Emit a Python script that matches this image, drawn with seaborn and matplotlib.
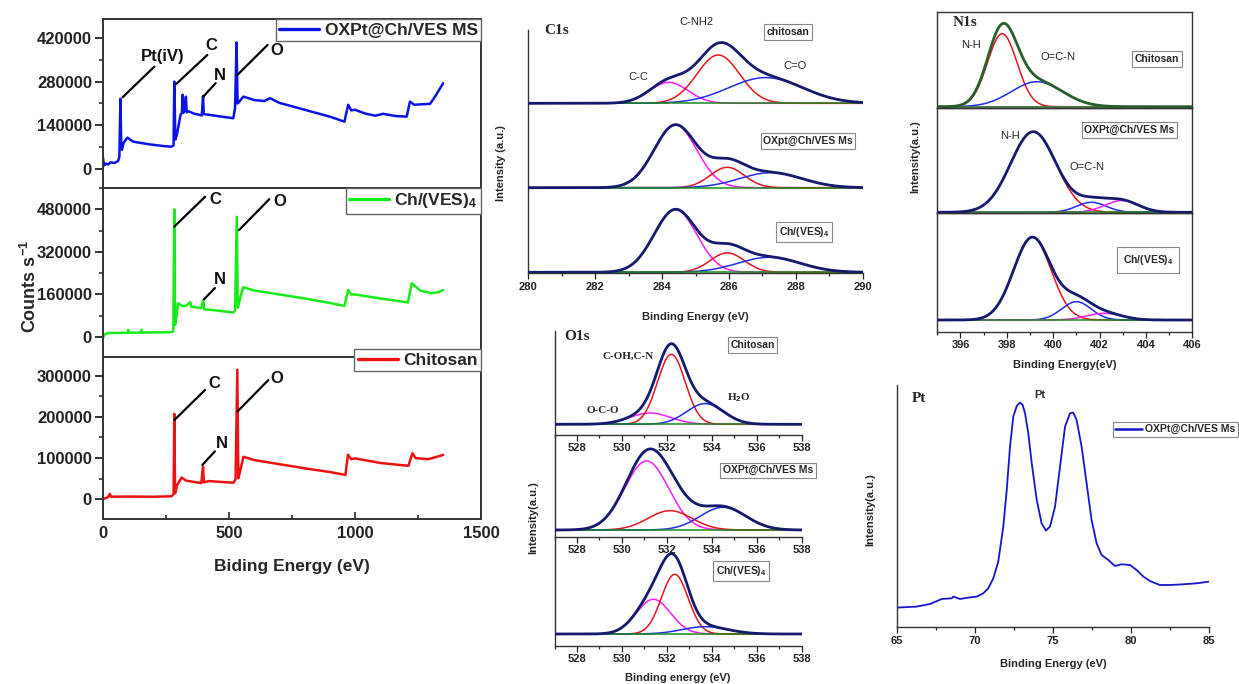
import numpy as np
import matplotlib
matplotlib.use("Agg")
import matplotlib.pyplot as plt
from matplotlib.ticker import MultipleLocator, FuncFormatter
from matplotlib.lines import Line2D
import seaborn as sns

# ------------------------------------------------------------------ data
# Survey spectra (binding energy eV, counts s-1)
survey_oxpt_E = [0, 4, 12, 20, 30, 45, 60, 65, 69, 72, 75, 82, 97, 120, 180, 240, 272, 280, 283, 287,
                 293, 300, 308, 313, 316, 319, 324, 329, 332, 340, 360, 392, 397, 400, 420, 470, 517,
                 524, 530, 534, 540, 557, 600, 640, 663, 700, 800, 900, 958, 973, 985, 1000, 1040,
                 1080, 1112, 1160, 1205, 1218, 1235, 1298, 1320, 1350]
survey_oxpt_I = [36000, 12000, 18000, 15000, 22000, 20000, 26000, 40000, 225000, 90000, 62000, 85000,
                 101000, 88000, 80000, 74000, 72000, 76000, 280000, 95000, 110000, 140000, 175000,
                 180000, 238000, 180000, 190000, 232000, 182000, 185000, 178000, 172000, 234000,
                 176000, 174000, 168000, 163000, 195000, 405000, 210000, 215000, 232000, 221000,
                 218000, 227000, 212000, 190000, 168000, 152000, 206000, 188000, 190000, 178000,
                 171000, 177000, 170000, 168000, 216000, 206000, 209000, 235000, 275000]

survey_chves_E = [0, 5, 20, 99, 100, 102, 152, 153, 155, 270, 279, 283, 286, 292, 298, 315, 330, 347,
                  350, 390, 398, 402, 450, 517, 524, 531, 535, 545, 557, 600, 700, 800, 900, 958, 973,
                  985, 1000, 1100, 1210, 1225, 1260, 1300, 1330, 1350]
survey_chves_I = [-4000, 9000, 15000, 16000, 27000, 16000, 17000, 27000, 17000, 18000, 22000, 480000,
                  46000, 80000, 127000, 116000, 118000, 131000, 114000, 109000, 140000, 104000,
                  100000, 92000, 100000, 452000, 110000, 150000, 187000, 175000, 160000, 145000,
                  128000, 117000, 177000, 160000, 160000, 145000, 130000, 202000, 174000, 165000,
                  168000, 177000]

survey_chitosan_E = [0, 20, 27, 32, 100, 200, 272, 280, 283, 286, 295, 312, 330, 390, 397, 400, 420,
                     517, 526, 533, 537, 545, 557, 600, 700, 800, 900, 962, 972, 985, 1000, 1100,
                     1212, 1228, 1240, 1290, 1320, 1350]
survey_chitosan_I = [0, 5000, 13000, 6000, 6500, 6000, 7000, 12000, 207000, 14500, 35000, 52500,
                     45000, 39000, 79000, 41000, 44000, 40000, 48000, 314000, 51000, 70000, 103000,
                     95000, 85000, 75000, 66000, 59000, 107500, 97000, 99000, 88000, 81000, 111500,
                     100000, 97000, 102000, 107500]

survey_labels = ["OXPt@Ch/VES MS", "Ch/(VES)$_\\mathbf{4}$", "Chitosan"]
survey_yticks_oxpt = [0, 140000, 280000, 420000]
survey_yticks_chves = [0, 160000, 320000, 480000]
survey_yticks_chitosan = [0, 100000, 200000, 300000]
survey_xticks = [0, 500, 1000, 1500]

# Peak fits: centre (eV), height (a.u.), FWHM (eV); order magenta, red, blue
c1s_chitosan_center = [284.2, 285.68, 287.1]
c1s_chitosan_height = [21.0, 48.3, 25.7]
c1s_chitosan_fwhm = [1.35, 1.5, 2.6]
c1s_oxpt_center = [284.4, 285.95, 287.25]
c1s_oxpt_height = [62.7, 20.4, 15.0]
c1s_oxpt_fwhm = [1.5, 1.2, 2.2]
c1s_chves_center = [284.4, 285.95, 287.2]
c1s_chves_height = [62.7, 19.4, 15.0]
c1s_chves_fwhm = [1.5, 1.2, 2.2]

# N1s: order red, blue, magenta
n1s_chitosan_center = [397.8, 399.3, 400.0]
n1s_chitosan_height = [73.0, 25.0, 0.0]
n1s_chitosan_fwhm = [1.5, 2.6, 2.0]
n1s_oxpt_center = [399.14, 401.65, 402.95]
n1s_oxpt_height = [80.6, 10.0, 11.7]
n1s_oxpt_fwhm = [2.3, 1.5, 1.7]
n1s_chves_center = [399.1, 401.0, 402.2]
n1s_chves_height = [82.7, 18.3, 6.7]
n1s_chves_fwhm = [1.9, 1.5, 1.8]

# O1s: order magenta, red, blue
o1s_chitosan_center = [531.25, 532.2, 533.7]
o1s_chitosan_height = [11.3, 70.0, 20.7]
o1s_chitosan_fwhm = [2.15, 1.45, 1.95]
o1s_oxpt_center = [531.1, 532.14, 534.5]
o1s_oxpt_height = [69.0, 19.3, 22.7]
o1s_oxpt_fwhm = [2.3, 2.3, 2.4]
o1s_chves_center = [531.4, 532.35, 533.7]
o1s_chves_height = [34.7, 59.7, 7.3]
o1s_chves_fwhm = [1.8, 1.4, 2.4]

# Pt 4f spectrum points (eV, a.u.)
pt_E = [65.0, 66.28, 67.13, 67.88, 68.52, 68.62, 69.05, 69.58, 70.12, 70.54, 70.86, 71.18, 71.5,
        71.82, 72.04, 72.25, 72.46, 72.68, 72.89, 73.06, 73.21, 73.42, 73.64, 73.96, 74.27, 74.55,
        74.81, 75.13, 75.45, 75.77, 76.09, 76.3, 76.51, 76.83, 77.15, 77.47, 77.79, 78.11, 78.54,
        78.96, 79.39, 79.93, 80.35, 80.78, 81.2, 81.84, 82.48, 83.33, 84.19, 85.0]
pt_I = [19.7, 20.7, 23.3, 28.3, 29.0, 30.7, 28.3, 29.7, 30.7, 34.0, 39.0, 49.0, 65.7, 100.7, 137.3,
        180.7, 210.7, 221.3, 224.7, 222.3, 214.0, 194.0, 164.0, 127.3, 104.0, 96.7, 100.7, 120.7,
        160.7, 200.7, 214.0, 214.7, 207.3, 180.7, 144.0, 107.3, 84.0, 72.3, 67.3, 61.3, 63.0, 62.3,
        57.3, 50.7, 46.3, 42.3, 42.3, 43.0, 44.0, 45.7]

# ------------------------------------------------------------------ style
sns.set_theme(style="white")
plt.rcParams["font.family"] = ["Liberation Sans", "DejaVu Sans"]
plt.rcParams["font.weight"] = "bold"
plt.rcParams["axes.labelweight"] = "bold"
plt.rcParams["mathtext.fontset"] = "custom"
plt.rcParams["mathtext.rm"] = "Liberation Sans:bold"
plt.rcParams["mathtext.bf"] = "Liberation Sans:bold"
plt.rcParams["mathtext.it"] = "Liberation Sans:bold"

W, H = 1239, 684
fig = plt.figure(figsize=(W / 100, H / 100), dpi=100)
fig.patch.set_facecolor("white")


def add_ax(x0, y0, x1, y1):
    return fig.add_axes([x0 / W, 1 - y1 / H, (x1 - x0) / W, (y1 - y0) / H])


def ftext(x, y, s, **kw):
    kw.setdefault("ha", "center")
    kw.setdefault("va", "center")
    return fig.text(x / W, 1 - y / H, s, **kw)


def line(ax, x, y, color, lw, z=2):
    sns.lineplot(x=np.asarray(x, float), y=np.asarray(y, float), ax=ax, color=color,
                 linewidth=lw, estimator=None, sort=False, legend=False, errorbar=None, zorder=z)


def gauss(x, c, h, w):
    return h * np.exp(-4 * np.log(2) * (x - c) ** 2 / w ** 2)


def draw_fit(ax, x, centers, heights, fwhms, colors, offset, env_color, base_color="#1a8a1a"):
    comps = [gauss(x, c, h, w) for c, h, w in zip(centers, heights, fwhms)]
    for comp, col in zip(comps, colors):
        line(ax, x, comp + offset, col, 1.1, z=2)
    line(ax, x, np.full_like(x, offset), base_color, 1.1, z=3)
    line(ax, x, np.sum(comps, axis=0) + offset, env_color, 2.0, z=4)


MAG, RED, BLU, NAVY = "#ff1aff", "#e8141e", "#1f2ee6", "#141a6e"
sfmt = FuncFormatter(lambda v, p: f"{v:.0f}")

# ------------------------------------------------------------------ survey panel
rows = [
    (19, 188, survey_oxpt_E, survey_oxpt_I, "#0a12e8", survey_labels[0], (-60000, 480000),
     survey_yticks_oxpt, 70000,
     [((78, 230000), (204, 328000), "Pt(iV)", (238, 360000)),
      ((290, 272000), (414, 365000), "C", (428, 395000)),
      ((398, 232000), (447, 275000), "N", (462, 300000)),
      ((533, 301000), (653, 397000), "O", (688, 380000))], 0),
    (188, 357, survey_chves_E, survey_chves_I, "#18ec18", survey_labels[1], (-75000, 560000),
     survey_yticks_chves, 80000,
     [((283, 415000), (405, 527000), "C", (445, 515000)),
      ((401, 142000), (444, 184000), "N", (462, 215000)),
      ((540, 402000), (660, 518000), "O", (700, 508000))], 0),
    (357, 519, survey_chitosan_E, survey_chitosan_I, "#ee1111", survey_labels[2], (-48000, 345000),
     survey_yticks_chitosan, 50000,
     [((283, 192000), (405, 265000), "C", (440, 281000)),
      ((394, 83000), (444, 116000), "N", (472, 136000)),
      ((534, 213000), (656, 289000), "O", (690, 292000))], 8),
]
for i, (y0, y1, E, I, col, lab, ylim, yt, ymin, anns, lgup) in enumerate(rows):
    ax = add_ax(103, y0, 481, y1)
    line(ax, E, I, col, 1.8)
    ax.set_xlim(0, 1500)
    ax.set_ylim(*ylim)
    ax.set_yticks(yt)
    ax.yaxis.set_minor_locator(MultipleLocator(ymin))
    ax.yaxis.set_major_formatter(sfmt)
    ax.set_xticks(survey_xticks)
    ax.xaxis.set_minor_locator(MultipleLocator(250))
    ax.tick_params(axis="y", which="major", direction="out", length=6, width=1.3, labelsize=12,
                   left=True, pad=2, colors="#222")
    ax.tick_params(axis="y", which="minor", direction="out", length=3, width=1.1, left=True,
                   colors="#222")
    ax.tick_params(axis="x", which="both", direction="in", bottom=(i == 2), length=5, width=1.2,
                   labelbottom=(i == 2), labelsize=12, pad=5, colors="#222")
    ax.tick_params(axis="x", which="minor", length=3)
    for sp in ax.spines.values():
        sp.set_color("#333")
        sp.set_linewidth(1.4)
    for (p0, p1, txt, tp) in anns:
        ax.plot([p0[0], p1[0]], [p0[1], p1[1]], color="black", lw=1.6, zorder=5)
        ax.text(tp[0], tp[1], txt, fontsize=12, fontweight="bold", ha="center", va="center",
                color="#111", zorder=6)
    hdl = Line2D([], [], color=col, lw=2.4)
    leg = ax.legend(handles=[hdl], labels=[lab], loc="upper right",
                    bbox_to_anchor=(1, 1 + lgup / (y1 - y0)), borderaxespad=0, frameon=True,
                    fancybox=False, edgecolor="#666", framealpha=1, fontsize=12.5,
                    handlelength=2.3, borderpad=0.2, handletextpad=0.3)
    leg.get_frame().set_linewidth(1.0)
    leg.set_zorder(10)

ftext(30, 286, "Counts s$^{\\mathbf{-1}}$", rotation=90, fontsize=13, fontweight="bold")
ftext(292, 567, "Biding Energy (eV)", fontsize=12.5, fontweight="bold")

# ------------------------------------------------------------------ C1s panel
xc = np.linspace(280, 290, 500)
axc = add_ax(528.3, 30, 862.7, 273.3)
axc.set_xlim(280, 290)
axc.set_ylim(0, 243.3)
draw_fit(axc, xc, c1s_chitosan_center, c1s_chitosan_height, c1s_chitosan_fwhm,
         [MAG, RED, BLU], 170.0, NAVY)
draw_fit(axc, xc, c1s_oxpt_center, c1s_oxpt_height, c1s_oxpt_fwhm, [MAG, RED, BLU], 85.6, NAVY)
draw_fit(axc, xc, c1s_chves_center, c1s_chves_height, c1s_chves_fwhm, [MAG, RED, BLU], 1.0, NAVY)


def small_axes_style(ax, major, minor, show_labels=True, spines=("left", "bottom")):
    ax.set_yticks([])
    ax.xaxis.set_major_locator(MultipleLocator(major))
    ax.xaxis.set_minor_locator(MultipleLocator(minor))
    ax.xaxis.set_major_formatter(sfmt)
    ax.tick_params(axis="x", which="both", direction="out", bottom=show_labels,
                   labelbottom=show_labels, labelsize=8, length=4, width=0.9, pad=2,
                   colors="#222")
    ax.tick_params(axis="x", which="minor", length=2.5)
    for name, sp in ax.spines.items():
        sp.set_visible(name in spines)
        sp.set_color("#333")
        sp.set_linewidth(1.0)
    ax.set_facecolor("none")


small_axes_style(axc, 2, 1)
box = dict(boxstyle="square,pad=0.25", fc="white", ec="#888", lw=0.8)
ftext(557, 30, "C1s", fontsize=11, fontweight="bold", family="Liberation Serif")
ftext(696, 21.7, "C-NH2", fontsize=8, fontweight="normal")
ftext(638, 76.7, "C-C", fontsize=8, fontweight="normal")
ftext(795, 65.7, "C=O", fontsize=8, fontweight="normal")
ftext(788, 32, "chitosan", fontsize=7.5, bbox=box)
ftext(808, 141, "OXpt@Ch/VES Ms", fontsize=7.5, bbox=box)
ftext(804, 232, "Ch/(VES)$_\\mathbf{4}$", fontsize=7.5, bbox=box)
ftext(501, 163, "Intensity (a.u.)", fontsize=8, rotation=90)
ftext(695, 317, "Binding Energy (eV)", fontsize=8)

# ------------------------------------------------------------------ N1s panel
xn = np.linspace(395, 406, 500)
n_rows = [
    (11.7, 107.7, n1s_chitosan_center, n1s_chitosan_height, n1s_chitosan_fwhm, 1.0, "#27602a"),
    (107.7, 213.3, n1s_oxpt_center, n1s_oxpt_height, n1s_oxpt_fwhm, 1.0, NAVY),
    (213.3, 331.7, n1s_chves_center, n1s_chves_height, n1s_chves_fwhm, 11.7, NAVY),
]
for i, (y0, y1, c, h, w, off, ec) in enumerate(n_rows):
    ax = add_ax(937.3, y0, 1192.3, y1)
    ax.set_xlim(395, 406)
    ax.set_ylim(0, y1 - y0)
    draw_fit(ax, xn, c, h, w, [RED, BLU, MAG], off, ec)
    small_axes_style(ax, 2, 1, show_labels=(i == 2), spines=("left", "bottom", "top", "right"))
ftext(965, 22.7, "N1s", fontsize=11, fontweight="bold", family="Liberation Serif")
ftext(971, 45, "N-H", fontsize=8, fontweight="normal")
ftext(1058, 56.7, "O=C-N", fontsize=8, fontweight="normal")
ftext(1157, 59, "Chitosan", fontsize=7.5, bbox=box)
ftext(1010, 136, "N-H", fontsize=8, fontweight="normal")
ftext(1087, 166.7, "O=C-N", fontsize=8, fontweight="normal")
ftext(1129.5, 130, "OXPt@Ch/VES Ms", fontsize=7.5, bbox=box)
ftext(1148, 260, "Ch/(VES)$_\\mathbf{4}$", fontsize=7.5,
      bbox=dict(boxstyle="square,pad=0.55", fc="white", ec="#888", lw=0.8))
ftext(915, 157, "Intensity(a.u.)", fontsize=8, rotation=90)
ftext(1065, 365, "Binding Energy(eV)", fontsize=8)

# ------------------------------------------------------------------ O1s panel
xo = np.linspace(527.0, 538, 500)
o_rows = [
    (331, 435, o1s_chitosan_center, o1s_chitosan_height, o1s_chitosan_fwhm, 10.7),
    (435, 536.7, o1s_oxpt_center, o1s_oxpt_height, o1s_oxpt_fwhm, 6.7),
    (536.7, 646, o1s_chves_center, o1s_chves_height, o1s_chves_fwhm, 12.0),
]
for i, (y0, y1, c, h, w, off) in enumerate(o_rows):
    ax = add_ax(554.5, y0, 801.7, y1)
    ax.set_xlim(527, 538)
    ax.set_ylim(0, y1 - y0)
    draw_fit(ax, xo, c, h, w, [MAG, RED, BLU], off, NAVY)
    small_axes_style(ax, 2, 1, show_labels=True)
ftext(577, 337, "O1s", fontsize=11, fontweight="bold", family="Liberation Serif")
ftext(628, 356, "C-OH,C-N", fontsize=8, family="Liberation Serif")
ftext(603, 410.7, "O-C-O", fontsize=8, family="Liberation Serif")
ftext(739, 397.7, "H$_\\mathbf{2}$O", fontsize=8, family="Liberation Serif")
ftext(752.5, 345, "Chitosan", fontsize=7.5, bbox=box)
ftext(768, 470.3, "OXPt@Ch/VES Ms", fontsize=7.5, bbox=box)
ftext(741, 571, "Ch/(VES)$_\\mathbf{4}$", fontsize=7.5, bbox=box)
ftext(533, 518, "Intensity(a.u.)", fontsize=8, rotation=90)
ftext(678, 678, "Binding energy (eV)", fontsize=8)

# ------------------------------------------------------------------ Pt panel
axp = add_ax(896.7, 385, 1209.3, 627.3)
axp.set_xlim(65, 85)
axp.set_ylim(0, 242.3)
line(axp, pt_E, pt_I, "#1414d2", 1.3)
small_axes_style(axp, 5, 2.5)
hdl = Line2D([], [], color="#1414d2", lw=1.8)
leg = axp.legend(handles=[hdl], labels=["OXPt@Ch/VES Ms"], loc="upper right",
                 bbox_to_anchor=(1238.3 / W, 1 - 421.7 / H), bbox_transform=fig.transFigure,
                 borderaxespad=0, frameon=True, fancybox=False, edgecolor="#888",
                 framealpha=1, fontsize=7.5, handlelength=2.6, borderpad=0.25,
                 handletextpad=0.3)
leg.get_frame().set_linewidth(0.8)
ftext(919, 398, "Pt", fontsize=11, fontweight="bold", family="Liberation Serif")
ftext(1040, 395, "Pt", fontsize=8)
ftext(870, 510, "Intensity(a.u.)", fontsize=8, rotation=90)
ftext(1053, 664, "Binding Energy (eV)", fontsize=8)

fig.savefig("out.png", dpi=100, facecolor="white")
